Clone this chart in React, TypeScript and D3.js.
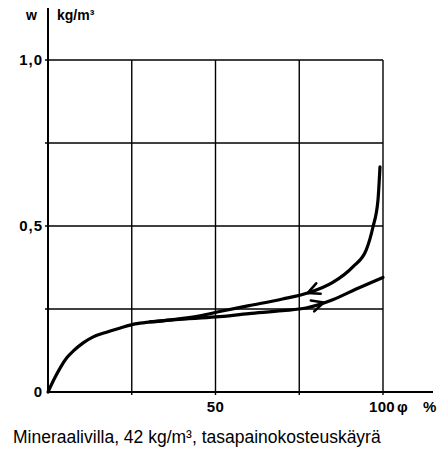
import React from "react";
import { scaleLinear, line, curveMonotoneX } from "d3";

// relative humidity (%) and moisture content w (kg/m3)
const adsPhi = [0, 2, 3.6, 5.6, 7.5, 10.5, 13.5, 17.7, 21.6, 26, 30.5, 38, 50, 60, 70, 77, 85, 92, 100];
const adsW = [0, 0.042, 0.072, 0.103, 0.123, 0.148, 0.166, 0.181, 0.193, 0.205, 0.211, 0.218, 0.226, 0.236, 0.245, 0.253, 0.278, 0.31, 0.345];

const desPhi = [30.5, 38, 45, 52, 60, 70, 77.5, 85, 91, 95, 97, 98.5, 99.1];
const desW = [0.211, 0.219, 0.229, 0.244, 0.26, 0.28, 0.298, 0.33, 0.377, 0.428, 0.497, 0.578, 0.678];

const xGrid = [25, 50, 75, 100];
const yGrid = [0.25, 0.5, 0.75, 1.0];
const yTickValues = [0, 0.5, 1.0];
const yTickLabels = ["0", "0,5", "1,0"];

// arrow positions on each curve (phi) and direction
const arrows = [
  { phi: 77.5, series: "des", dir: -1 },
  { phi: 82.3, series: "ads", dir: 1 },
];

const font = "'Liberation Sans', Arial, sans-serif";

const interp = (xs: number[], ys: number[], v: number) => {
  for (let i = 0; i < xs.length - 1; i++) {
    if (v >= xs[i] && v <= xs[i + 1]) {
      const t = (v - xs[i]) / (xs[i + 1] - xs[i]);
      return ys[i] + t * (ys[i + 1] - ys[i]);
    }
  }
  return ys[ys.length - 1];
};

const App = () => {
  const width = 440;
  const height = 452;
  const x = scaleLinear().domain([0, 100]).range([48, 383]);
  const y = scaleLinear().domain([0, 1]).range([392, 60]);

  const lineGen = line<[number, number]>()
    .x((d) => x(d[0]))
    .y((d) => y(d[1]))
    .curve(curveMonotoneX);

  const ads = adsPhi.map((p, i) => [p, adsW[i]] as [number, number]);
  const des = desPhi.map((p, i) => [p, desW[i]] as [number, number]);

  const arrowPaths = arrows.map((a) => {
    const xs = a.series === "ads" ? adsPhi : desPhi;
    const ys = a.series === "ads" ? adsW : desW;
    const tx = x(a.phi);
    const ty = y(interp(xs, ys, a.phi));
    const bx = x(a.phi - a.dir * 3);
    const by = y(interp(xs, ys, a.phi - a.dir * 3));
    const ang = Math.atan2(by - ty, bx - tx);
    const len = 13;
    const spread = 0.45;
    const p1 = [tx + len * Math.cos(ang + spread), ty + len * Math.sin(ang + spread)];
    const p2 = [tx + len * Math.cos(ang - spread), ty + len * Math.sin(ang - spread)];
    return `M${p1[0]},${p1[1]}L${tx},${ty}L${p2[0]},${p2[1]}`;
  });

  return (
    <svg
      width={width}
      height={height}
      style={{ position: "absolute", left: 0, top: 0, background: "#fff" }}
    >
      {/* grid */}
      {xGrid.map((v) => (
        <line key={"gx" + v} x1={x(v)} x2={x(v)} y1={y(1)} y2={y(0) + 3} stroke="#000" strokeWidth={1.4} />
      ))}
      {yGrid.map((v) => (
        <line key={"gy" + v} x1={x(0) - 3} x2={x(100)} y1={y(v)} y2={y(v)} stroke="#000" strokeWidth={1.4} />
      ))}
      {/* axes */}
      <line x1={x(0)} x2={x(0)} y1={8} y2={y(0)} stroke="#000" strokeWidth={2} />
      <line x1={x(0)} x2={433} y1={y(0)} y2={y(0)} stroke="#000" strokeWidth={2} />

      {/* curves */}
      <path d={lineGen(ads) || ""} fill="none" stroke="#000" strokeWidth={3.2} strokeLinecap="round" />
      <path d={lineGen(des) || ""} fill="none" stroke="#000" strokeWidth={3.2} strokeLinecap="round" />
      {arrowPaths.map((d, i) => (
        <path key={"a" + i} d={d} fill="none" stroke="#000" strokeWidth={2.6} strokeLinecap="round" strokeLinejoin="round" />
      ))}

      {/* labels */}
      <g fontFamily={font} fontWeight="bold" fontSize={15} fill="#000">
        {yTickValues.map((v, i) => (
          <text key={"yl" + v} x={43} y={y(v)} dy="0.36em" textAnchor="end" letterSpacing={1}>
            {yTickLabels[i]}
          </text>
        ))}
        <text x={x(50)} y={412} textAnchor="middle" letterSpacing={0.5}>50</text>
        <text x={369} y={412} letterSpacing={0.3}>100</text>
        <text x={397} y={412}>φ</text>
        <text x={423} y={412}>%</text>
        <text x={26} y={20} fontSize={14}>w</text>
        <text x={57} y={20} fontSize={14}>kg/m³</text>
      </g>
      <text x={13} y={443} fontFamily={font} fontSize={17.5} fill="#000">
        Mineraalivilla, 42 kg/m³, tasapainokosteuskäyrä
      </text>
    </svg>
  );
};

export default App;
